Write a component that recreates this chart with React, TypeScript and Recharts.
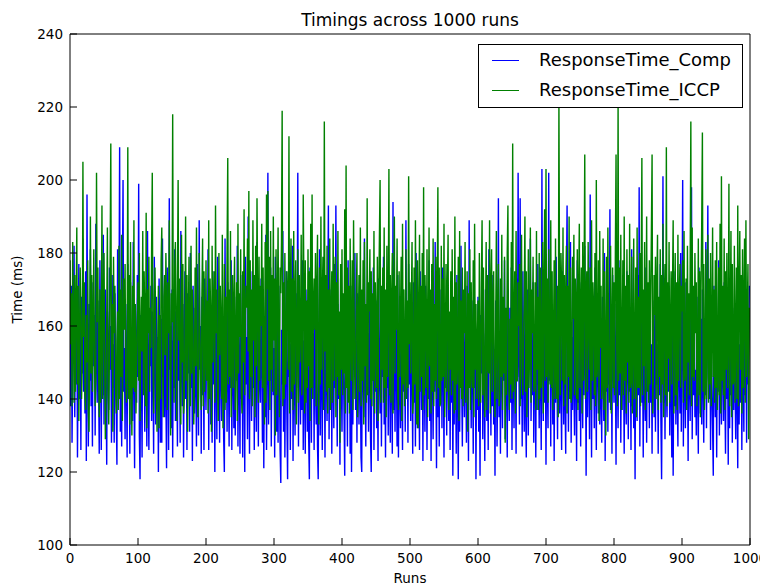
import { LineChart, Line, XAxis, YAxis, Legend } from 'recharts';

// ms per run (runs 0..999)
const responseTimeComp = [
  156,138,171,128,149,163,182,135,158,144,170,124,152,177,140,161,126,168,147,184,
  142,159,136,175,123,196,150,127,166,145,181,138,157,127,172,149,163,130,188,152,
  139,167,146,125,178,155,126,162,141,185,133,158,170,144,122,164,151,137,176,148,
  160,128,174,143,155,128,169,150,138,122,181,147,163,209,131,158,127,171,200,142,
  154,129,166,149,124,177,145,160,125,172,140,157,134,183,148,121,165,152,139,174,
  146,199,130,118,163,150,124,175,142,158,131,169,153,127,186,144,126,161,149,171,
  134,164,147,125,179,155,133,168,143,157,120,173,150,128,162,128,184,146,159,135,
  167,141,121,176,153,126,195,148,160,132,170,124,156,143,181,134,164,151,127,172,
  145,158,128,186,149,138,166,124,154,175,140,161,126,169,147,156,131,180,143,163,
  123,171,150,136,165,145,127,177,154,130,189,148,160,125,168,141,155,126,173,149,
  137,162,146,181,126,157,169,133,152,128,175,144,160,120,166,150,129,179,142,158,
  128,170,148,134,163,154,129,120,184,145,157,131,172,150,127,165,143,178,126,160,
  151,132,168,130,156,145,182,127,162,148,125,174,140,159,124,166,152,120,179,144,
  157,129,190,147,125,168,152,134,175,143,161,126,170,149,131,183,155,127,164,146,
  139,173,153,128,166,121,158,135,185,126,150,202,133,162,145,176,127,157,168,141,
  154,124,179,148,131,164,128,171,150,126,117,159,144,186,131,167,124,152,175,135,
  118,163,146,172,126,155,140,182,123,160,147,130,169,143,157,202,127,174,151,133,
  165,137,178,126,156,146,125,170,153,131,161,129,118,176,149,128,167,143,158,126,
  172,145,133,160,127,118,154,181,130,163,148,126,175,142,157,124,168,150,134,164,
  193,129,156,145,170,125,161,149,132,177,143,193,152,127,166,140,158,122,173,147,
  131,162,151,136,119,168,146,157,127,178,144,160,125,171,120,153,133,165,148,180,
  137,156,128,169,150,133,174,145,124,120,163,152,135,184,147,127,166,143,158,131,
  170,149,129,120,161,145,176,126,155,142,167,132,152,123,173,148,136,164,127,157,
  146,179,133,153,124,165,143,159,130,171,150,128,162,147,125,194,137,156,131,168,
  152,127,174,124,158,145,132,166,149,126,170,142,155,131,189,147,162,128,177,144,
  158,134,167,148,125,172,139,155,127,180,150,132,164,146,126,175,153,137,160,123,
  165,147,131,171,152,126,158,140,178,134,161,123,168,149,129,157,142,183,150,121,
  163,135,155,127,170,146,159,132,176,150,124,166,143,154,130,172,147,134,161,126,
  157,139,170,119,151,133,165,147,125,174,142,118,160,131,153,182,145,127,167,150,
  135,162,148,128,171,155,123,189,146,158,132,167,150,125,176,143,160,118,154,137,
  168,131,152,119,163,147,175,129,158,145,123,170,152,134,164,126,181,148,156,130,
  161,138,174,133,150,119,167,155,127,146,195,135,158,125,172,149,132,163,145,178,
  129,160,147,124,170,152,134,165,139,176,126,157,148,132,168,154,125,173,146,202,
  151,133,195,140,160,127,175,149,131,166,138,124,157,170,130,162,148,184,134,155,
  141,172,128,159,150,124,167,137,177,154,132,163,146,126,203,152,134,169,139,158,
  122,166,145,132,202,145,160,127,174,151,133,164,123,156,139,179,148,129,168,153,
  136,162,143,126,175,155,133,166,140,125,170,193,150,131,161,142,183,128,157,137,
  169,144,130,160,152,123,178,139,157,134,165,127,172,150,132,163,141,182,154,119,
  161,135,171,149,129,196,153,124,167,140,158,132,176,147,126,165,152,136,170,133,
  155,141,128,168,150,134,180,123,159,142,171,131,162,144,192,137,156,125,174,151,
  139,166,152,122,172,148,132,160,141,178,128,156,137,169,150,125,163,143,133,175,
  153,129,168,142,157,126,181,138,160,132,150,118,165,145,134,174,141,198,127,158,
  170,139,152,124,166,143,134,176,128,158,145,162,132,171,139,155,125,167,147,135,
  163,131,173,144,155,125,160,141,177,134,118,152,201,139,167,129,158,144,135,165,
  142,171,130,157,146,124,164,119,153,138,175,133,160,143,127,169,150,136,180,131,
  158,200,127,165,145,132,172,140,155,123,166,146,134,161,198,129,157,141,170,135,
  148,130,168,143,125,176,152,136,162,133,170,145,128,158,141,183,132,163,193,146,
  140,165,126,156,144,132,119,171,148,135,163,124,157,142,178,130,160,146,133,167,
  149,134,172,143,125,161,140,156,122,168,132,152,141,176,128,159,137,165,145,129,
  162,142,121,170,133,155,139,164,126,158,146,131,173,141,160,128,167,144,156,171,
];

const responseTimeICCP = [
  178,155,169,138,183,160,139,174,142,166,187,144,171,134,158,176,162,140,149,205,
  157,172,141,137,163,150,178,136,131,155,190,147,174,142,160,181,152,138,145,202,
  161,176,148,135,170,139,157,193,140,166,180,152,129,144,162,187,141,133,154,178,
  210,148,166,131,179,158,171,143,136,156,164,137,182,140,170,146,185,134,160,173,
  159,177,144,139,152,209,140,174,133,183,147,130,171,143,189,142,166,136,150,163,
  172,145,180,134,157,168,153,186,141,175,162,138,191,132,170,158,179,142,165,154,
  181,202,150,136,167,176,160,145,131,155,171,132,163,140,178,187,157,135,168,174,
  152,180,165,137,172,158,189,147,130,169,161,218,154,139,176,183,160,134,171,200,
  156,173,142,133,185,150,177,136,140,157,190,145,174,131,161,179,152,138,182,147,
  170,158,133,144,176,149,187,155,135,141,180,160,146,137,169,184,138,175,142,151,
  178,145,167,136,189,140,173,161,131,182,150,166,175,139,193,158,170,143,134,180,
  152,171,159,140,185,132,148,177,137,168,139,181,206,144,170,146,186,135,153,174,
  143,166,179,137,155,172,134,188,147,169,157,181,142,136,175,150,192,141,163,171,
  165,184,153,197,140,178,146,170,138,189,156,174,135,182,149,195,167,139,179,145,
  171,160,188,143,176,150,133,183,139,196,170,197,145,179,137,186,148,174,142,190,
  156,173,130,181,141,166,187,152,135,176,169,183,219,138,172,140,180,144,151,175,
  166,148,212,136,170,184,142,173,137,186,144,168,178,133,155,181,139,174,150,158,
  185,141,147,196,170,136,178,139,167,143,181,149,175,134,188,143,196,140,165,173,
  159,180,138,170,185,142,133,176,144,190,148,168,179,137,216,153,174,142,182,136,
  170,143,184,137,163,175,139,188,145,167,179,135,172,146,186,141,164,128,177,148,
  181,141,169,147,192,136,204,143,176,139,171,136,184,155,145,178,137,189,162,140,
  147,168,180,135,159,174,142,187,138,170,145,178,133,183,149,166,139,195,141,172,
  164,181,140,175,138,169,145,186,136,172,161,143,179,134,167,184,200,139,171,148,
  176,139,187,143,170,135,182,146,165,203,141,174,139,168,180,136,163,190,147,171,
  159,184,141,137,175,146,162,179,134,188,144,170,138,152,181,140,167,143,201,155,
  172,147,165,183,136,140,176,144,189,150,133,178,132,163,185,142,171,146,180,137,
  198,141,174,162,143,181,135,155,187,149,170,136,177,142,184,138,166,145,179,140,
  170,198,143,176,138,139,182,145,173,146,188,135,154,177,142,169,185,137,164,148,
  175,141,181,145,168,136,190,137,172,144,150,179,134,186,143,167,140,176,138,170,
  158,183,139,147,175,131,169,143,181,137,172,148,143,178,135,188,148,166,140,155,
  167,138,180,146,139,172,189,141,176,145,135,160,183,137,174,148,147,189,136,171,
  181,142,166,175,144,135,159,186,140,162,177,138,140,173,146,185,137,168,147,179,
  128,165,141,180,193,148,137,162,144,183,140,210,142,157,175,136,186,145,145,172,
  160,177,138,169,185,146,141,158,166,190,142,175,135,151,181,143,155,187,139,170,
  158,179,142,145,172,137,186,148,168,137,180,140,176,143,148,183,136,170,192,145,
  203,146,173,139,181,150,144,189,143,175,137,156,178,140,184,146,140,171,135,222,
  166,141,180,170,145,187,138,174,144,168,182,136,171,146,190,140,176,139,143,179,
  162,185,141,173,167,140,181,137,170,188,143,164,176,136,183,145,172,207,140,168,
  175,142,183,164,148,176,137,189,145,172,165,141,180,138,200,146,150,178,134,186,
  154,171,140,145,184,137,175,151,130,179,143,187,156,139,148,182,136,158,176,143,
  172,141,180,207,154,138,222,145,176,147,185,137,152,178,141,190,145,171,136,181,
  150,174,139,188,143,145,179,136,155,184,140,149,176,135,187,143,168,143,180,138,
  175,206,141,170,149,183,137,156,190,142,172,139,178,144,168,186,207,136,147,174,
  163,179,140,171,185,137,168,146,181,139,174,144,188,135,167,177,141,209,138,172,
  151,183,139,158,175,144,170,189,136,163,180,141,172,137,185,145,168,177,143,171,
  164,178,139,186,145,147,173,137,182,150,169,141,176,216,138,187,146,171,145,180,
  158,172,138,149,184,141,175,135,170,188,213,142,177,137,146,181,140,157,185,139,
  173,144,180,138,158,187,146,170,139,178,143,183,137,149,176,141,188,136,201,145,
  171,141,184,137,175,148,180,143,156,199,138,160,186,135,177,144,145,182,139,158,
  176,140,193,138,170,186,148,174,136,181,143,167,184,139,189,146,162,177,129,165,
];

const X_TICKS = [0, 100, 200, 300, 400, 500, 600, 700, 800, 900, 1000];
const Y_TICKS = [100, 120, 140, 160, 180, 200, 220, 240];

const data = responseTimeComp.map((v, i) => ({
  run: i,
  comp: v,
  iccp: responseTimeICCP[i],
}));

const FONT = '"DejaVu Sans", sans-serif';
const tickStyle = { fill: '#000', fontSize: 13.5, fontFamily: FONT };

function LegendBox() {
  const rows = [
    { name: 'ResponseTime_Comp', color: '#0000ff', y: 16 },
    { name: 'ResponseTime_ICCP', color: '#008000', y: 46 },
  ];
  return (
    <div
      style={{
        position: 'relative',
        width: 265,
        height: 64,
        boxSizing: 'border-box',
        border: '1px solid #000',
        background: '#fff',
        fontFamily: FONT,
        fontSize: 18,
        color: '#000',
      }}
    >
      {rows.map(r => (
        <div key={r.name}>
          <div
            style={{
              position: 'absolute',
              left: 13,
              top: r.y - 1,
              width: 27,
              height: 0,
              borderTop: `1.5px solid ${r.color}`,
            }}
          />
          <div
            style={{
              position: 'absolute',
              left: 60,
              top: r.y - 11,
              height: 20,
              lineHeight: '20px',
              whiteSpace: 'nowrap',
            }}
          >
            {r.name}
          </div>
        </div>
      ))}
    </div>
  );
}

export default function App() {
  return (
    <LineChart
      width={760}
      height={579}
      data={data}
      margin={{ top: 25, right: 17, bottom: 0, left: 2 }}
    >
      <XAxis
        type="number"
        dataKey="run"
        domain={[0, 1000]}
        ticks={X_TICKS}
        allowDataOverflow
        height={42}
        tickSize={-7}
        tickMargin={15}
        stroke="#000"
        tick={tickStyle}
        label={{ value: 'Runs', position: 'insideBottom', offset: 4, fill: '#000', fontSize: 13.5, fontFamily: FONT }}
      />
      <XAxis
        xAxisId="top"
        orientation="top"
        type="number"
        dataKey="run"
        domain={[0, 1000]}
        ticks={X_TICKS}
        allowDataOverflow
        height={1}
        tickSize={-7}
        tick={false}
        stroke="#000"
        label={{ value: 'Timings across 1000 runs', position: 'top', offset: 7, fill: '#000', fontSize: 17, fontFamily: FONT }}
      />
      <YAxis
        type="number"
        domain={[100, 240]}
        ticks={Y_TICKS}
        allowDataOverflow
        width={60}
        tickSize={-7}
        tickMargin={14}
        stroke="#000"
        tick={tickStyle}
        label={{
          value: 'Time (ms)',
          angle: -90,
          position: 'insideLeft',
          offset: 7,
          fill: '#000',
          fontSize: 13.5,
          fontFamily: FONT,
          style: { textAnchor: 'middle' },
        }}
      />
      <YAxis
        yAxisId="right"
        orientation="right"
        type="number"
        domain={[100, 240]}
        ticks={Y_TICKS}
        allowDataOverflow
        width={1}
        tickSize={-7}
        tick={false}
        stroke="#000"
      />
      <Line
        dataKey="comp"
        name="ResponseTime_Comp"
        stroke="#0000ff"
        strokeWidth={1.4}
        dot={false}
        isAnimationActive={false}
      />
      <Line
        dataKey="iccp"
        name="ResponseTime_ICCP"
        stroke="#008000"
        strokeWidth={1.4}
        dot={false}
        isAnimationActive={false}
      />
      <Legend
        layout="vertical"
        align="center"
        verticalAlign="middle"
        wrapperStyle={{ left: 470, top: 36, width: 265, height: 64 }}
        content={() => <LegendBox />}
      />
    </LineChart>
  );
}
